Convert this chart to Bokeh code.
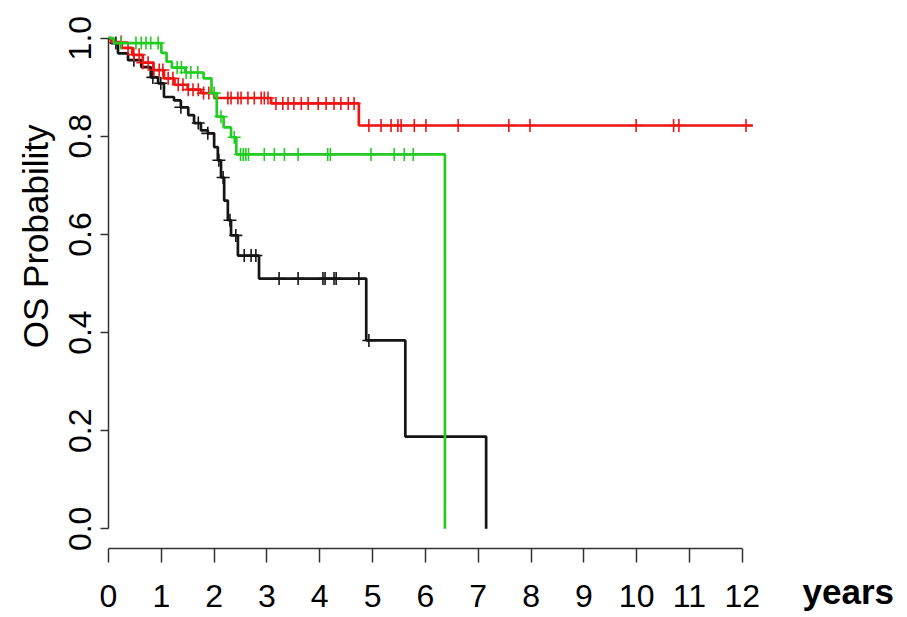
import numpy as np
from math import pi
from bokeh.plotting import figure
from bokeh.models import FixedTicker, PrintfTickFormatter, Label, Range1d
from bokeh.embed import file_html
from bokeh.resources import INLINE

# ---- data ----
x_ticks = [0, 1, 2, 3, 4, 5, 6, 7, 8, 9, 10, 11, 12]
y_ticks = [0.0, 0.2, 0.4, 0.6, 0.8, 1.0]

black_times = [0, 0.05, 0.18, 0.37, 0.62, 0.80, 0.94, 1.05, 1.24, 1.37, 1.51, 1.62, 1.75,
               1.88, 2.00, 2.07, 2.13, 2.19, 2.26, 2.32, 2.45, 2.85, 4.88, 5.62, 7.15]
black_surv = [1.0, 0.99, 0.969, 0.955, 0.941, 0.92, 0.908, 0.88, 0.873, 0.859, 0.843, 0.827, 0.812,
              0.806, 0.778, 0.751, 0.716, 0.669, 0.629, 0.598, 0.557, 0.51, 0.384, 0.188, 0.0]
black_end = 7.15
black_censor = [0.14, 0.48, 0.84, 0.99, 1.37, 1.70, 1.88, 2.09, 2.17, 2.30, 2.41, 2.57, 2.70, 2.79,
                3.23, 3.59, 4.06, 4.10, 4.27, 4.31, 4.74, 4.93]

red_times = [0, 0.05, 0.25, 0.45, 0.65, 0.85, 1.05, 1.25, 1.50, 1.75, 2.00, 3.08, 4.74]
red_surv = [1.0, 0.992, 0.980, 0.966, 0.950, 0.935, 0.918, 0.905, 0.895, 0.888, 0.878, 0.867, 0.822]
red_end = 12.2
red_censor = [0.24, 0.37, 0.48, 0.58, 0.65, 0.75, 0.86, 0.96, 1.03, 1.13, 1.22, 1.32, 1.41, 1.51,
              1.60, 1.70, 1.80, 1.90, 2.26, 2.32, 2.45, 2.51, 2.64, 2.76, 2.89, 2.95, 3.02,
              3.17, 3.30, 3.40, 3.51, 3.65, 3.78, 3.97, 4.12, 4.27, 4.40, 4.54, 4.65,
              4.93, 5.16, 5.35, 5.48, 5.54, 5.79, 6.01, 6.62, 7.58, 7.98, 9.99, 10.70, 10.80, 12.07]

green_times = [0, 0.10, 1.00, 1.10, 1.20, 1.45, 1.80, 1.95, 2.05, 2.18, 2.32, 2.42, 6.37]
green_surv = [1.0, 0.99, 0.97, 0.952, 0.94, 0.93, 0.918, 0.888, 0.84, 0.818, 0.798, 0.763, 0.0]
green_end = 6.37
green_censor = [0.24, 0.52, 0.62, 0.71, 0.80, 0.94, 1.30, 1.38, 1.47, 1.56, 1.69, 2.00, 2.13, 2.38,
                2.50, 2.55, 2.60, 2.65, 2.95, 3.14, 3.33, 3.59, 4.15, 4.20, 4.97, 5.41, 5.60, 5.77]

FONT = "Liberation Sans"

p = figure(width=900, height=617, x_range=Range1d(0, 12.25), y_range=Range1d(-0.04, 1.04),
           output_backend="svg", toolbar_location=None,
           min_border_left=108, min_border_right=145, min_border_top=18, min_border_bottom=69)
p.outline_line_color = None
p.xgrid.visible = False
p.ygrid.visible = False
p.background_fill_color = "white"
p.border_fill_color = "white"

for ax in (p.xaxis, p.yaxis):
    ax.axis_line_color = "#333333"
    ax.axis_line_width = 1.5
    ax.major_tick_line_color = "#333333"
    ax.major_tick_line_width = 1.5
    ax.minor_tick_line_color = None
    ax.major_tick_in = 0
    ax.major_label_text_font = FONT
    ax.major_label_text_color = "black"
    ax.major_label_text_font_size = "32px"

p.xaxis.ticker = FixedTicker(ticks=x_ticks)
p.xaxis.bounds = (0, 12)
p.xaxis.major_tick_out = 14
p.xaxis.major_label_standoff = 22

p.yaxis.ticker = FixedTicker(ticks=y_ticks)
p.yaxis.formatter = PrintfTickFormatter(format="%.1f")
p.yaxis.bounds = (0, 1)
p.yaxis.major_label_orientation = "vertical"
p.yaxis.major_tick_out = 8
p.yaxis.major_label_standoff = 9


def surv_at(times, surv, t):
    idx = np.searchsorted(np.array(times), np.array(t), side="right") - 1
    return list(np.array(surv)[idx])


curves = [
    (black_times, black_surv, black_end, black_censor, "#151515"),
    (red_times, red_surv, red_end, red_censor, "#f01414"),
    (green_times, green_surv, green_end, green_censor, "#22cc22"),
]
for times, surv, end, cens, col in curves:
    xs = list(times) + ([end] if end > times[-1] else [])
    ys = list(surv) + ([surv[-1]] if end > times[-1] else [])
    p.step(x=xs, y=ys, mode="after", line_color=col, line_width=2.7)
    p.scatter(x=cens, y=surv_at(times, surv, cens), marker="cross", size=13,
              line_color=col, line_width=1.6)

p.add_layout(Label(x=-1.38, y=0.596, text="OS Probability", angle=pi / 2,
                   text_align="center", text_baseline="middle",
                   text_font=FONT, text_font_size="35px", text_color="black"), "left")
p.add_layout(Label(x=13.14, y=-0.127, text="years", text_align="left",
                   text_baseline="alphabetic", text_font=FONT, text_font_style="bold",
                   text_font_size="35px", text_color="black"), "right")

open("out.html", "w").write(file_html(p, INLINE))
